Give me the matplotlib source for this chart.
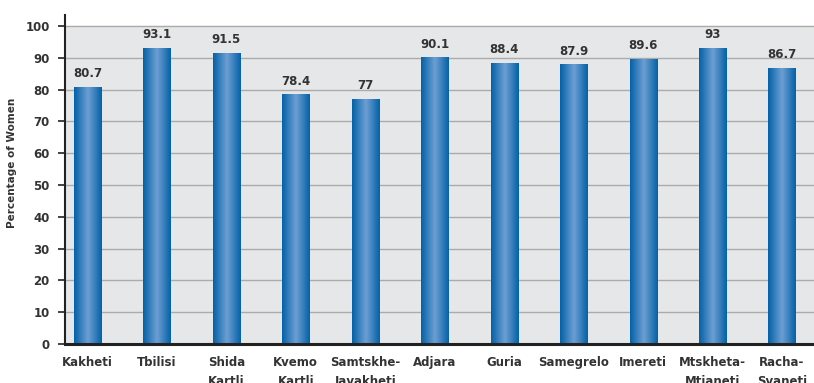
import numpy as np
import matplotlib.pyplot as plt
from matplotlib.colors import LinearSegmentedColormap

# Data
regions = ['Kakheti', 'Tbilisi', 'Shida\nKartli', 'Kvemo\nKartli', 'Samtskhe-\nJavakheti',
           'Adjara', 'Guria', 'Samegrelo', 'Imereti', 'Mtskheta-\nMtianeti', 'Racha-\nSvaneti']
values = [80.7, 93.1, 91.5, 78.4, 77, 90.1, 88.4, 87.9, 89.6, 93, 86.7]
value_labels = ['80.7', '93.1', '91.5', '78.4', '77', '90.1', '88.4', '87.9', '89.6', '93', '86.7']
yticks = [0, 10, 20, 30, 40, 50, 60, 70, 80, 90, 100]

text_color = '#333333'
plt.rcParams['font.family'] = ['DejaVu Sans']

fig = plt.figure(figsize=(8.14, 3.83), dpi=100)
ax = fig.add_axes([0.08, 0.102, 0.92, 0.859])

ax.set_facecolor('white')
ax.axhspan(0, 100, color='#e6e7e8', zorder=0)
for t in yticks[1:]:
    ax.axhline(t, color='#ababab', lw=1.0, zorder=1)

# Bars with horizontal gradient (dark edges, light centre)
cmap = LinearSegmentedColormap.from_list('bar', [(0, '#0462a8'), (0.5, '#6e9fd2'), (1, '#0462a8')])
grad = np.linspace(0, 1, 64).reshape(1, -1)
width = 0.39
x = np.arange(len(regions))
for xi, v, lab in zip(x, values, value_labels):
    ax.imshow(grad, cmap=cmap, aspect='auto', extent=(xi - width / 2, xi + width / 2, 0, v),
              zorder=2, interpolation='bicubic')
    ax.text(xi, v + 2.2, lab, ha='center', va='bottom', fontsize=8.5, fontweight='bold',
            color=text_color, zorder=3)

ax.set_xlim(-0.32, 10.46)
ax.set_ylim(0, 103.5)

ax.set_yticks(yticks)
ax.set_yticklabels([str(t) for t in yticks], fontsize=8.5, fontweight='bold', color=text_color)
ax.set_xticks(x)
ax.set_xticklabels(regions, fontsize=8.5, fontweight='bold', color=text_color, linespacing=1.55)
ax.tick_params(axis='x', length=0, pad=9)
ax.tick_params(axis='y', length=5, width=1.2, color='#222222', pad=6)

for s in ['top', 'right']:
    ax.spines[s].set_visible(False)
ax.spines['left'].set_color('#222222')
ax.spines['left'].set_linewidth(1.5)
ax.spines['bottom'].set_color('#222222')
ax.spines['bottom'].set_linewidth(2.2)
ax.spines['left'].set_zorder(4)
ax.spines['bottom'].set_zorder(4)

ax.set_ylabel('Percentage of Women', fontsize=7.5, fontweight='bold', color=text_color)
ax.yaxis.set_label_coords(-0.064, 0.55)

fig.savefig('out.png', dpi=100)
